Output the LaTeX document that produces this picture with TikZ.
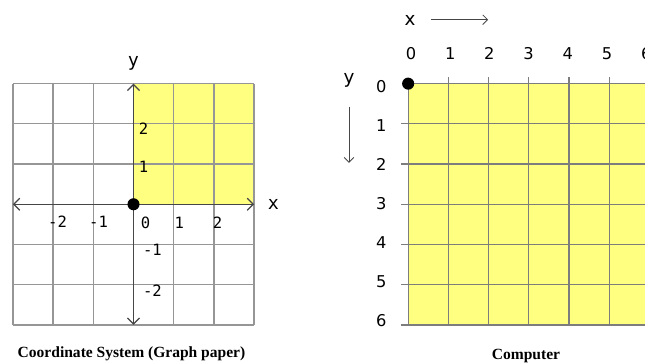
\documentclass[tikz,border=0pt]{standalone}
\usepackage{fontspec}
\setmainfont{Liberation Serif}
\newfontfamily\monofam{DejaVu Sans Mono}
\newfontfamily\sansfam{DejaVu Sans}
\usetikzlibrary{positioning,arrows.meta,calc}
\definecolor{paper}{RGB}{255,255,128}
\definecolor{gridlight}{RGB}{150,150,150}
\definecolor{griddark}{RGB}{125,125,125}
\definecolor{axisgray}{RGB}{70,70,70}

\begin{document}
\begin{tikzpicture}[
    >={Straight Barb[length=1.5mm,width=3mm]},
    gline/.style  = {draw=gridlight, line width=0.9pt},
    cline/.style  = {draw=griddark, line width=0.9pt},
    axis/.style   = {<->, draw=axisgray, line width=0.9pt},
    pointer/.style= {-{Straight Barb[length=1.2mm,width=2.4mm]},
                     draw=axisgray, line width=0.6pt},
    dot/.style    = {circle, fill=black, inner sep=0pt, minimum size=0.3cm},
    mlbl/.style   = {font=\monofam\fontsize{11}{13}\selectfont, inner sep=0pt},
    slbl/.style   = {font=\sansfam\fontsize{11.5}{13}\selectfont, inner sep=0pt},
    captxt/.style = {font=\bfseries\fontsize{11}{13}\selectfont},
]
\useasboundingbox (-3.32,-3.95) rectangle (12.72,5.08);

%% ── Graph paper ───────────────────────────────────────────────────────────
\coordinate (O) at (0,0);
\fill[paper] (O) rectangle (3,3);
\draw[gline] (-3,-3) grid (3,3);

\coordinate (xl) at (-3,0);
\coordinate (xr) at (3,0);
\coordinate (yb) at (0,-3);
\coordinate (yt) at (0,3);
\draw[axis] (xl) -- (xr);
\draw[axis] (yb) -- (yt);
\node[dot] (o1) at (O) {};

\node[mlbl, font=\monofam\fontsize{13}{15}\selectfont] (ly) at (0,3.51) {y};
\node[mlbl, font=\monofam\fontsize{13}{15}\selectfont] (lx) at (3.48,0) {x};

\node[mlbl] (lxm2) at (-1.89,-0.43) {-2};
\node[mlbl] (lxm1) at (-0.87,-0.43) {-1};
\node[mlbl] (lx0)  at (0.30,-0.45) {0};
\node[mlbl] (lx1)  at (1.14,-0.45) {1};
\node[mlbl] (lx2)  at (2.09,-0.45) {2};
\node[mlbl] (ly2)  at (0.25,1.89) {2};
\node[mlbl] (ly1)  at (0.25,0.92) {1};
\node[mlbl] (lym1) at (0.47,-1.14) {-1};
\node[mlbl] (lym2) at (0.47,-2.14) {-2};

\node[captxt] (cap1) at (-0.05,-3.73) {Coordinate System (Graph paper)};

%% ── Computer screen ───────────────────────────────────────────────────────
\coordinate (C) at (6.83,3);
\fill[paper] (C) rectangle (12.8,-3);
\foreach \i in {0,...,5}
  \draw[cline] ($(C)+(\i,0)$) -- ++(0,-6);
\foreach \j in {0,...,6}
  \draw[cline] ($(C)+(0,-\j)$) -- (12.8,3-\j);
\foreach \i in {1,...,5}
  \draw[cline] ($(C)+(\i,0)$) -- ++(0,0.17);
\foreach \j in {1,...,6}
  \draw[cline] ($(C)+(0,-\j)$) -- ++(-0.17,0);
\node[dot] (o2) at (C) {};

\node[slbl, font=\sansfam\fontsize{13}{15}\selectfont] (cx) at ($(C)+(0.05,1.57)$) {x};
\coordinate (cxa) at ($(C)+(0.57,1.59)$);
\coordinate (cxb) at ($(C)+(1.99,1.59)$);
\draw[pointer] (cxa) -- (cxb);

\node[slbl, font=\sansfam\fontsize{13}{15}\selectfont] (cy) at ($(C)+(-1.47,0.08)$) {y};
\coordinate (cya) at ($(C)+(-1.47,-0.57)$);
\coordinate (cyb) at ($(C)+(-1.47,-1.97)$);
\draw[pointer] (cya) -- (cyb);

\foreach \i in {0,...,6}
  \node[slbl] (tx\i) at ($(C)+(0.07+0.975*\i,0.75)$) {\i};
\foreach \j in {0,...,6}
  \node[slbl] (ty\j) at ($(C)+(-0.67,-0.07-0.97*\j)$) {\j};

\node[captxt] (cap2) at (9.76,-3.78) {Computer};

\end{tikzpicture}
\end{document}
